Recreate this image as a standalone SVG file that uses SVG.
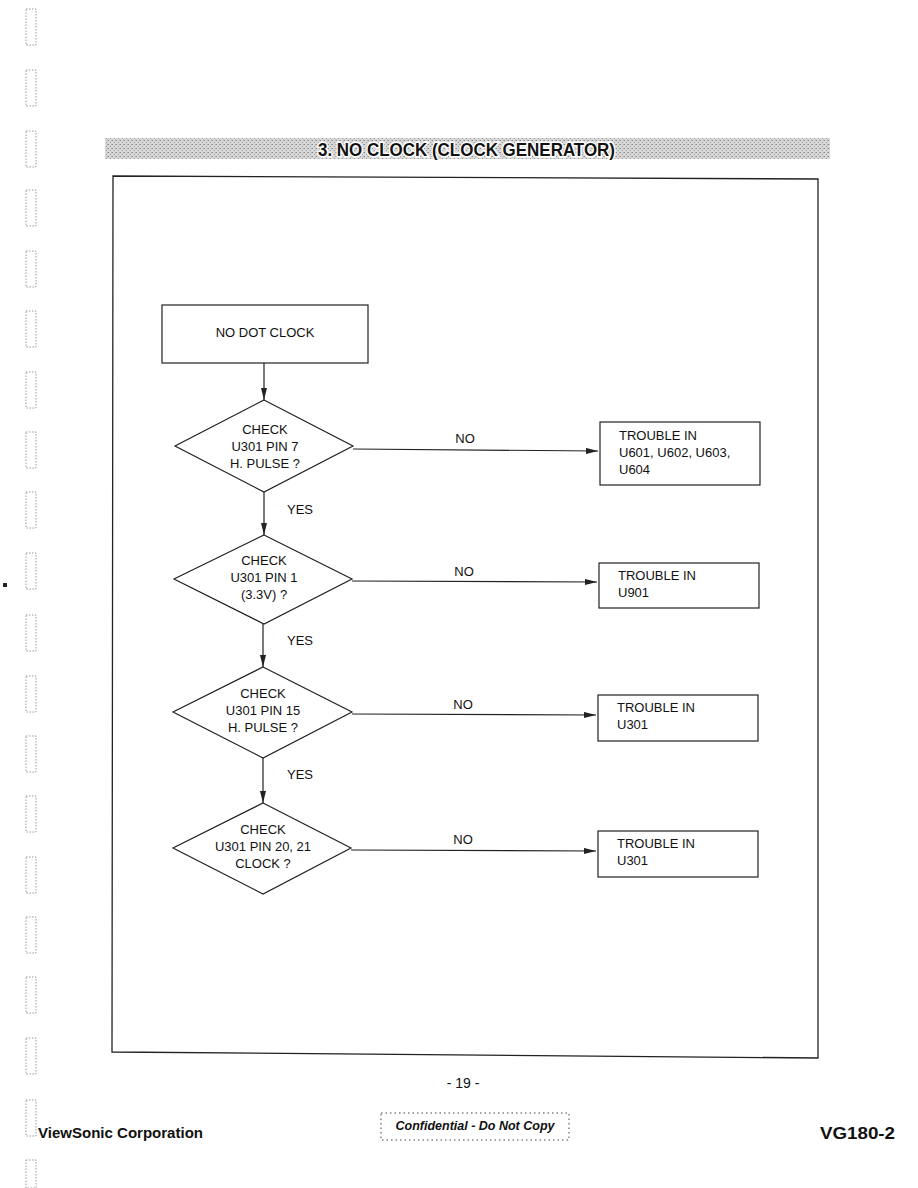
<svg xmlns="http://www.w3.org/2000/svg" width="918" height="1188" viewBox="0 0 918 1188">
<defs>
<style>
.t{font-family:"Liberation Sans",Arial,sans-serif;font-size:13px;fill:#111}
.c{text-anchor:middle}
.shape{fill:#fff;stroke:#222;stroke-width:1.2}
.conn{stroke:#222;stroke-width:1.2;fill:none}
.hole{fill:none;stroke:#999;stroke-width:1;stroke-dasharray:1.5 1.5}
.ft{font-family:"Liberation Sans",Arial,sans-serif;font-weight:bold;fill:#111}
</style>
<pattern id="dither" width="4" height="4" patternUnits="userSpaceOnUse">
<rect width="4" height="4" fill="#d8d8d8"/>
<rect x="0" y="0" width="1" height="1" fill="#888"/>
<rect x="2" y="2" width="1" height="1" fill="#999"/>
<rect x="3" y="0" width="1" height="1" fill="#aaa"/>
</pattern>
<marker id="arr" markerWidth="12" markerHeight="6" refX="12" refY="3" orient="auto" markerUnits="userSpaceOnUse">
<path d="M0,0 L12,3 L0,6 Z" fill="#222"/>
</marker>
</defs>
<rect width="918" height="1188" fill="#fff"/>

<g id="binding-holes">
<rect class="hole" x="26" y="9" width="10" height="36"/>
<rect class="hole" x="26" y="70" width="10" height="36"/>
<rect class="hole" x="26" y="131" width="10" height="36"/>
<rect class="hole" x="26" y="190" width="10" height="36"/>
<rect class="hole" x="26" y="251" width="10" height="36"/>
<rect class="hole" x="26" y="311" width="10" height="36"/>
<rect class="hole" x="26" y="372" width="10" height="36"/>
<rect class="hole" x="26" y="432" width="10" height="36"/>
<rect class="hole" x="26" y="492" width="10" height="36"/>
<rect class="hole" x="26" y="553" width="10" height="36"/>
<rect class="hole" x="26" y="615" width="10" height="36"/>
<rect class="hole" x="26" y="676" width="10" height="36"/>
<rect class="hole" x="26" y="736" width="10" height="36"/>
<rect class="hole" x="26" y="796" width="10" height="36"/>
<rect class="hole" x="26" y="857" width="10" height="36"/>
<rect class="hole" x="26" y="917" width="10" height="36"/>
<rect class="hole" x="26" y="977" width="10" height="36"/>
<rect class="hole" x="26" y="1038" width="10" height="36"/>
<rect class="hole" x="26" y="1100" width="10" height="36"/>
<rect class="hole" x="26" y="1160" width="10" height="28"/>
<rect x="3" y="583" width="4" height="4" fill="#222"/>
</g>

<g id="header">
<rect x="105" y="138" width="725" height="21" fill="url(#dither)"/>
<text x="318" y="156" textLength="297" lengthAdjust="spacingAndGlyphs" font-family="Liberation Sans,Arial,sans-serif" font-weight="bold" font-size="19" fill="#111" stroke="#fff" stroke-width="3" paint-order="stroke">3. NO CLOCK (CLOCK GENERATOR)</text>
</g>

<g id="frame">
<path d="M113,176 L818,179 L818,1058 L112,1052 Z" fill="none" stroke="#222" stroke-width="1.3"/>
</g>

<g id="connectors">
<line class="conn" x1="264" y1="363" x2="264" y2="400" marker-end="url(#arr)"/>
<line class="conn" x1="353" y1="449" x2="598" y2="451" marker-end="url(#arr)"/>
<line class="conn" x1="264" y1="492" x2="264" y2="535" marker-end="url(#arr)"/>
<line class="conn" x1="352" y1="581" x2="597" y2="582" marker-end="url(#arr)"/>
<line class="conn" x1="263" y1="624" x2="263" y2="667" marker-end="url(#arr)"/>
<line class="conn" x1="352" y1="714" x2="596" y2="715" marker-end="url(#arr)"/>
<line class="conn" x1="263" y1="758" x2="263" y2="803" marker-end="url(#arr)"/>
<line class="conn" x1="351" y1="850" x2="596" y2="851" marker-end="url(#arr)"/>
<text class="t c" x="465" y="443">NO</text>
<text class="t c" x="464" y="576">NO</text>
<text class="t c" x="463" y="709">NO</text>
<text class="t c" x="463" y="844">NO</text>
<text class="t" x="287" y="514">YES</text>
<text class="t" x="287" y="645">YES</text>
<text class="t" x="287" y="779">YES</text>
</g>

<g id="start">
<rect class="shape" x="162" y="305" width="206" height="58"/>
<text class="t c" x="265" y="337">NO DOT CLOCK</text>
</g>

<g id="check1">
<polygon class="shape" points="264,400 353,446 264,492 175,446"/>
<text class="t c" x="265" y="434">CHECK</text>
<text class="t c" x="265" y="451">U301 PIN 7</text>
<text class="t c" x="265" y="468">H. PULSE ?</text>
</g>

<g id="check2">
<polygon class="shape" points="264,535 352,579 264,624 174,579"/>
<text class="t c" x="264" y="565">CHECK</text>
<text class="t c" x="264" y="582">U301 PIN 1</text>
<text class="t c" x="264" y="599">(3.3V) ?</text>
</g>

<g id="check3">
<polygon class="shape" points="263,667 352,712 263,758 173,712"/>
<text class="t c" x="263" y="698">CHECK</text>
<text class="t c" x="263" y="715">U301 PIN 15</text>
<text class="t c" x="263" y="732">H. PULSE ?</text>
</g>

<g id="check4">
<polygon class="shape" points="263,803 351,848 263,894 173,848"/>
<text class="t c" x="263" y="834">CHECK</text>
<text class="t c" x="263" y="851">U301 PIN 20, 21</text>
<text class="t c" x="263" y="868">CLOCK ?</text>
</g>

<g id="trouble1">
<rect class="shape" x="600" y="422" width="160" height="63"/>
<text class="t" x="619" y="440">TROUBLE IN</text>
<text class="t" x="619" y="457">U601, U602, U603,</text>
<text class="t" x="619" y="474">U604</text>
</g>

<g id="trouble2">
<rect class="shape" x="599" y="563" width="160" height="45"/>
<text class="t" x="618" y="580">TROUBLE IN</text>
<text class="t" x="618" y="597">U901</text>
</g>

<g id="trouble3">
<rect class="shape" x="598" y="695" width="160" height="46"/>
<text class="t" x="617" y="712">TROUBLE IN</text>
<text class="t" x="617" y="729">U301</text>
</g>

<g id="trouble4">
<rect class="shape" x="598" y="831" width="160" height="46"/>
<text class="t" x="617" y="848">TROUBLE IN</text>
<text class="t" x="617" y="865">U301</text>
</g>

<g id="footer">
<text x="463" y="1088" text-anchor="middle" font-family="Liberation Sans,Arial,sans-serif" font-size="14" fill="#111">- 19 -</text>
<text class="ft" x="38" y="1138" font-size="15" textLength="165" lengthAdjust="spacingAndGlyphs">ViewSonic Corporation</text>
<rect x="381" y="1113" width="188" height="27" fill="none" stroke="#444" stroke-width="1" stroke-dasharray="1.5 3"/>
<text x="475" y="1130" text-anchor="middle" font-family="Liberation Sans,Arial,sans-serif" font-style="italic" font-weight="bold" font-size="12.5" fill="#111">Confidential  -  Do Not Copy</text>
<text class="ft" x="895" y="1139" font-size="16" text-anchor="end" textLength="75" lengthAdjust="spacingAndGlyphs">VG180-2</text>
</g>
</svg>
